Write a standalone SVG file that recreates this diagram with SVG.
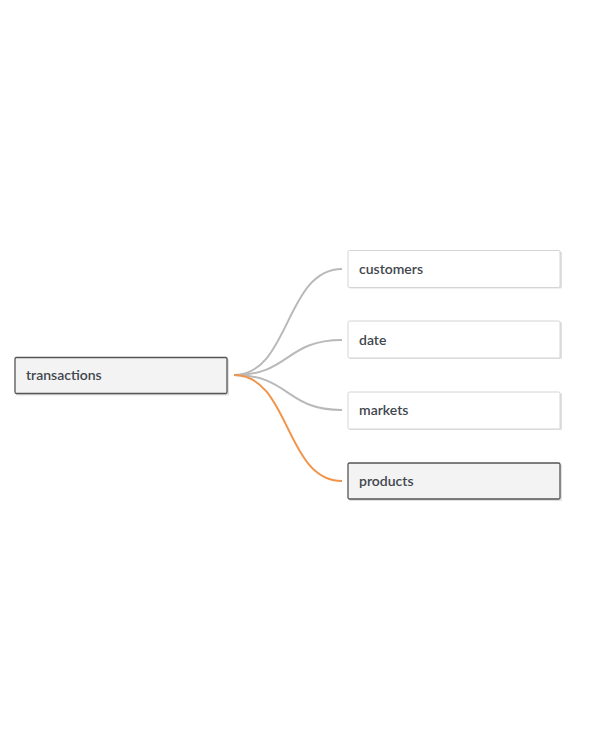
<svg xmlns="http://www.w3.org/2000/svg" width="600" height="750" viewBox="0 0 600 750">
<style>
.box{fill:#ffffff;stroke:#d4d4d4;stroke-width:1}
.sel{fill:#f3f3f3;stroke:#555555;stroke-width:1.3}
.shadow{fill:#000;opacity:0.12}
.lbl{font-family:Lato,"Open Sans","Liberation Sans",sans-serif;font-size:14px;font-weight:600;fill:#41464d}
.ln{fill:none;stroke:#b9b9b9;stroke-width:2}
.hl{fill:none;stroke:#f0944a;stroke-width:2}
</style>
<rect width="600" height="750" fill="#ffffff"/>
<g id="connectors">
<path class="ln" d="M234,375 C290,375 285,269 342,269"/>
<path class="ln" d="M234,375 C290,375 285,340 342,340"/>
<path class="ln" d="M234,375 C290,375 285,410 342,410"/>
<path class="hl" d="M234,375 C290,375 285,481 342,481"/>
</g>
<g id="transactions">
<rect class="shadow" x="16" y="358.5" width="213" height="37" rx="1.5"/>
<rect class="sel" x="15" y="357.5" width="212" height="36" rx="1.5"/>
<text class="lbl" x="26" y="380">transactions</text>
</g>
<g id="customers">
<rect class="shadow" x="349" y="251.5" width="213" height="37" rx="1.5"/>
<rect class="box" x="348" y="250.5" width="212" height="37" rx="1.5"/>
<text class="lbl" x="359" y="274">customers</text>
</g>
<g id="date">
<rect class="shadow" x="349" y="322" width="213" height="37" rx="1.5"/>
<rect class="box" x="348" y="321" width="212" height="37" rx="1.5"/>
<text class="lbl" x="359" y="345">date</text>
</g>
<g id="markets">
<rect class="shadow" x="349" y="393" width="213" height="37" rx="1.5"/>
<rect class="box" x="348" y="392" width="212" height="37" rx="1.5"/>
<text class="lbl" x="359" y="415">markets</text>
</g>
<g id="products">
<rect class="shadow" x="349" y="464" width="213" height="37" rx="1.5"/>
<rect class="sel" x="348" y="463" width="212" height="36" rx="1.5"/>
<text class="lbl" x="359" y="486">products</text>
</g>
</svg>
